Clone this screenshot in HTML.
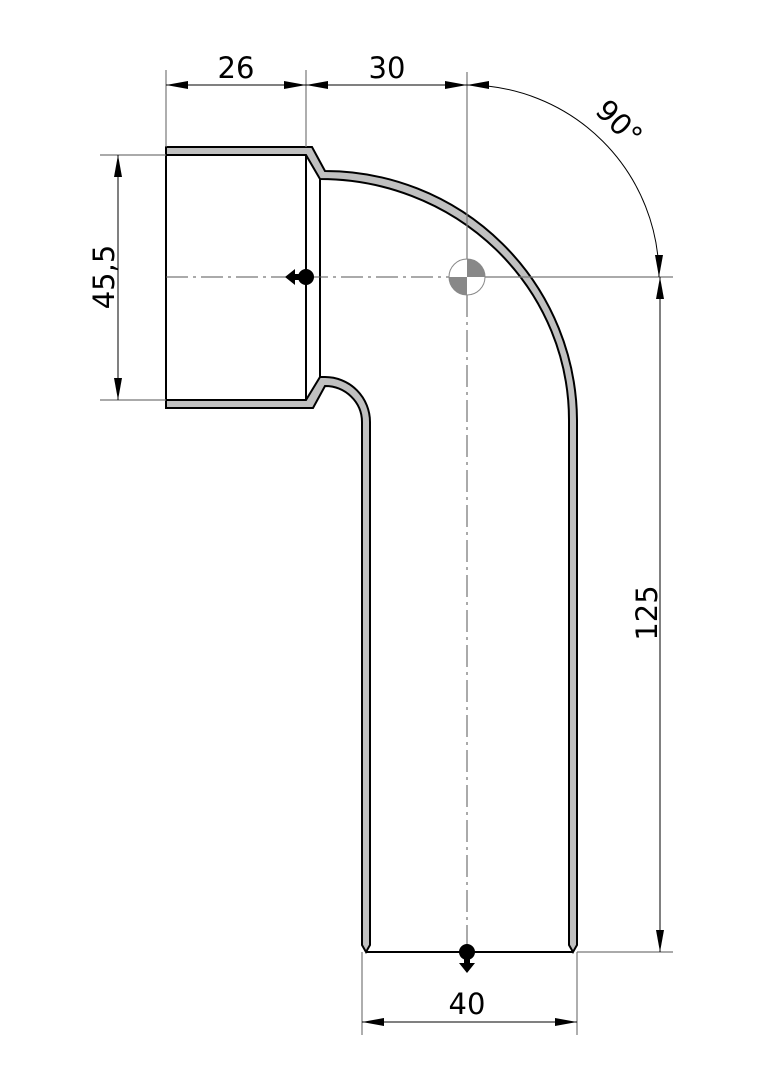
<!DOCTYPE html>
<html><head><style>body{margin:0;background:#fff}svg{display:block}</style></head><body>
<svg width="764" height="1080" viewBox="0 0 764 1080" xmlns="http://www.w3.org/2000/svg" font-family="DejaVu Sans, sans-serif">
<defs>
<marker id="a" markerWidth="22" markerHeight="8" refX="22" refY="4" orient="auto" markerUnits="userSpaceOnUse"><path d="M0,0 L22,4 L0,8 Z" fill="#000"/></marker>
</defs>
<g fill="#c0c0c0" stroke="#000" stroke-width="2">
<path d="M166,147 L312,147 L325,171 A252,251 0 0 1 577,420 L577,945 L573,952 L569,945 L569,420 A249,241 0 0 0 320,179 L306,155 L166,155 Z"/>
<path d="M166,408 L313,408 L325,386 A37,36 0 0 1 362,422 L362,945 L366,952 L370,945 L370,422 A45,45 0 0 0 325,377 L320,377 L306,400 L166,400 Z"/>
</g>
<g stroke="#000" stroke-width="2" fill="none">
<line x1="166" y1="155" x2="166" y2="400"/>
<line x1="306" y1="155" x2="306" y2="400"/>
<line x1="320" y1="179" x2="320" y2="377"/>
<line x1="366" y1="952" x2="573" y2="952"/>
</g>
<g stroke="#555" stroke-width="1" stroke-dasharray="22,5,3,5" fill="none">
<line x1="166" y1="277" x2="450" y2="277"/>
<line x1="467" y1="295" x2="467" y2="952"/>
</g>
<g stroke="#777" stroke-width="1.2" fill="none">
<line x1="166" y1="70" x2="166" y2="147"/>
<line x1="306" y1="70" x2="306" y2="147"/>
<line x1="467" y1="72" x2="467" y2="260"/>
<line x1="100" y1="155" x2="166" y2="155"/>
<line x1="100" y1="400" x2="166" y2="400"/>
<line x1="485" y1="277" x2="673" y2="277"/>
<line x1="577" y1="952" x2="673" y2="952"/>
<line x1="362" y1="952" x2="362" y2="1035"/>
<line x1="577" y1="952" x2="577" y2="1035"/>
</g>
<g stroke="#000" stroke-width="1" fill="none">
<line x1="166" y1="85" x2="306" y2="85" marker-end="url(#a)"/>
<line x1="306" y1="85" x2="166" y2="85" marker-end="url(#a)"/>
<line x1="306" y1="85" x2="467" y2="85" marker-end="url(#a)"/>
<line x1="467" y1="85" x2="306" y2="85" marker-end="url(#a)"/>
<line x1="118" y1="155" x2="118" y2="400" marker-end="url(#a)"/>
<line x1="118" y1="400" x2="118" y2="155" marker-end="url(#a)"/>
<line x1="660" y1="277" x2="660" y2="952" marker-end="url(#a)"/>
<line x1="660" y1="952" x2="660" y2="277" marker-end="url(#a)"/>
<line x1="362" y1="1022" x2="577" y2="1022" marker-end="url(#a)"/>
<line x1="577" y1="1022" x2="362" y2="1022" marker-end="url(#a)"/>
<path d="M467,85 A192,192 0 0 1 659,277"/>
</g>
<path d="M467,85 L489,81 L489,89 Z" fill="#000"/>
<path d="M659,277 L655,255 L663,255 Z" fill="#000"/>
<circle cx="467" cy="277" r="18" fill="#fff" stroke="#888" stroke-width="1"/>
<path d="M467,277 L467,259 A18,18 0 0 1 485,277 Z" fill="#888"/>
<path d="M467,277 L467,295 A18,18 0 0 1 449,277 Z" fill="#888"/>
<circle cx="306" cy="277" r="8" fill="#000"/>
<path d="M285,277 L295,269 L295,285 Z M294,274 L304,274 L304,280 L294,280Z" fill="#000"/>
<circle cx="467" cy="952" r="8" fill="#000"/>
<path d="M467,973 L459,963 L475,963 Z M464,955 L470,955 L470,965 L464,965Z" fill="#000"/>
<g font-size="29" fill="#000" text-anchor="middle">
<text x="236" y="78">26</text>
<text x="387" y="78">30</text>
<text x="467" y="1014">40</text>
<text transform="translate(114,277) rotate(-90)">45,5</text>
<text transform="translate(657,613) rotate(-90)">125</text>
<text transform="translate(612,130) rotate(45)">90°</text>
</g>
</svg>
</body></html>
